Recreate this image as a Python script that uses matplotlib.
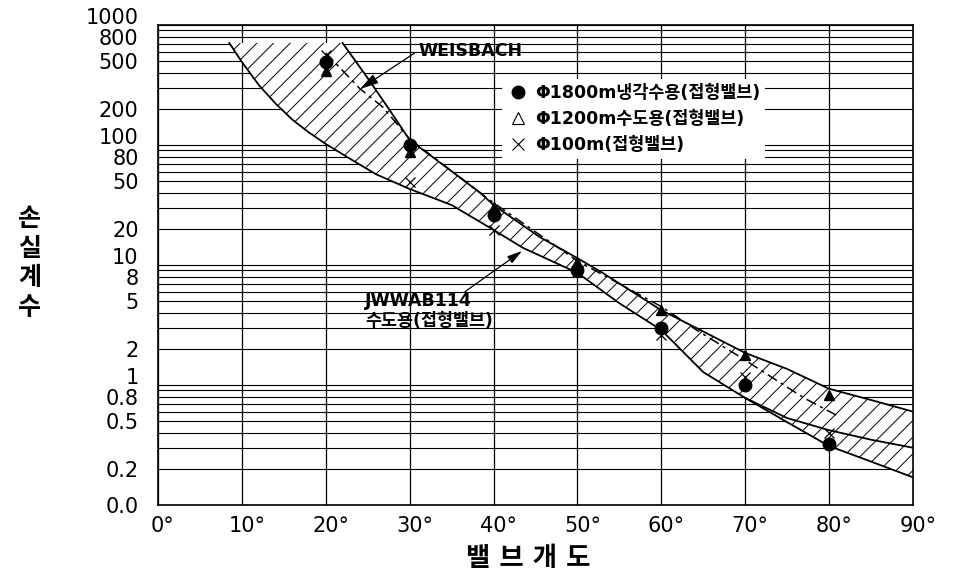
import numpy as np
import matplotlib
matplotlib.use('Agg')
import matplotlib.pyplot as plt
from matplotlib.lines import Line2D
from matplotlib.transforms import ScaledTranslation
from matplotlib.ticker import LogLocator, NullFormatter
from matplotlib.font_manager import FontProperties

plt.rcParams['font.family'] = ['DejaVu Sans', 'Noto Sans CJK KR']
plt.rcParams['hatch.linewidth'] = 0.7

# ---------------- data ----------------
angles = [20, 30, 40, 50, 60, 70, 80]
phi1800 = [492, 100, 26, 9.1, 3.0, 1.0, 0.32]
phi1200 = [414, 88, 30.4, 10.6, 4.2, 1.78, 0.83]
phi100 = [562, 49, 19.5, 8.7, 2.6, 1.16, 0.40]

upper_x = [22, 24.9, 27.6, 30, 34.4, 38.4, 40, 45.5, 50, 53, 60, 65, 70, 75, 80, 85, 90]
upper_y = [708, 369, 196, 110, 65, 40, 31.6, 17.1, 11.4, 8.6, 4.2, 2.79, 1.85, 1.36, 0.93, 0.75, 0.6]

lower_x = [8.5, 10, 12, 14, 16, 18, 20, 23, 26, 30, 35, 40, 43.5, 50, 55, 60, 65, 70, 75, 80, 85, 90]
lower_y = [708, 492, 317, 222, 163, 127, 102, 76, 57, 43, 31.6, 19.6, 13.9, 8.6, 4.8, 2.87, 1.28, 0.78, 0.53, 0.42, 0.35, 0.30]

branch_x = [70, 75, 80, 85, 90]
branch_y = [0.78, 0.49, 0.31, 0.23, 0.17]

weis_x = [20, 24.1, 26.8, 30, 38.4, 40, 50, 60, 64.2, 70, 77, 81.3]
weis_y = [585, 293, 207, 112, 40, 33, 10.8, 4.5, 2.87, 1.61, 0.78, 0.54]

xticks = [0, 10, 20, 30, 40, 50, 60, 70, 80, 90]
xtick_labels = ['0°', '10°', '20°', '30°', '40°', '50°', '60°', '70°', '80°', '90°']
yticks = [1000, 800, 500, 200, 100, 80, 50, 20, 10, 8, 5, 2, 1, 0.8, 0.5, 0.2, 0.1]
ytick_labels = ['1000', '800', '500', '200', '100', '80', '50', '20', '10', '8', '5',
                '2', '1', '0.8', '0.5', '0.2', '0.0']
decade_labels = ['1000', '100', '10', '1']

legend_labels = ['Φ1800m냉각수용(접형밸브)', 'Φ1200m수도용(접형밸브)', 'Φ100m(접형밸브)']

# ---------------- figure ----------------
fig = plt.figure(figsize=(9.56, 5.79), dpi=100)
ax = fig.add_axes([158 / 956, 1 - 505 / 579, (913 - 158) / 956, (505 - 25) / 579])
ax.set_yscale('log')
ax.set_xlim(0, 90)
ax.set_ylim(0.1, 1000)

# hatched band
idx = lower_x.index(branch_x[0])
band_x = lower_x[:idx] + branch_x + upper_x[::-1]
band_y = lower_y[:idx] + branch_y + upper_y[::-1]
ax.fill(band_x, band_y, facecolor='white', edgecolor='black', hatch='//', linewidth=0, zorder=2)

# boundary curves
ax.plot(upper_x, upper_y, color='black', lw=1.3, zorder=3)
ax.plot(lower_x, lower_y, color='black', lw=1.3, zorder=3)
ax.plot(branch_x, branch_y, color='black', lw=1.3, zorder=3)
ax.plot(weis_x, weis_y, color='black', lw=1.1, ls=(0, (7, 3, 2, 3)), zorder=3)

# data points
ax.plot(angles, phi100, ls='none', marker='x', color='black', ms=7, mew=0.9, zorder=4)
ax.plot(angles, phi1200, ls='none', marker='^', color='black', ms=7, zorder=5)
ax.plot(angles, phi1800, ls='none', marker='o', color='black', ms=9, zorder=6)

# annotations
ax.annotate('WEISBACH', xy=(24.1, 293), xytext=(31.0, 610), textcoords='data',
            ha='left', va='center', fontsize=12.5, weight='bold', zorder=7,
            arrowprops=dict(arrowstyle='-|>,head_length=0.9,head_width=0.25',
                            color='black', lw=0.9, shrinkA=0, shrinkB=0,
                            relpos=(0, 0.5)))
ax.text(24.7, 6.0, 'JWWAB114\n수도용(접형밸브)', ha='left', va='top', fontsize=12.5,
        weight='bold', linespacing=1.2, zorder=7)
ax.annotate('', xy=(43.4, 13.1), xytext=(36.6, 6.0), textcoords='data', zorder=7,
            arrowprops=dict(arrowstyle='-|>,head_length=0.9,head_width=0.25',
                            color='black', lw=0.9, shrinkA=0, shrinkB=0))

# ticks and grid
ax.set_xticks(xticks, xtick_labels)
ax.set_yticks(yticks, ytick_labels)
ax.yaxis.set_minor_locator(LogLocator(base=10, subs=np.arange(1, 10), numticks=30))
ax.yaxis.set_minor_formatter(NullFormatter())
ax.grid(True, which='both', axis='y', color='black', lw=0.8, zorder=0)
ax.grid(True, which='major', axis='x', color='black', lw=0.9, zorder=0)
ax.set_axisbelow(True)
ax.tick_params(axis='both', which='both', length=0)
ax.tick_params(axis='y', pad=14, labelsize=15)
ax.tick_params(axis='x', pad=8, labelsize=15)

for lab, txt in zip(ax.get_yticklabels(), ytick_labels):
    if txt in decade_labels:
        lab.set_transform(lab.get_transform() + ScaledTranslation(0, 0.09, fig.dpi_scale_trans))
for lab in ax.get_xticklabels():
    lab.set_transform(lab.get_transform() + ScaledTranslation(0.05, 0, fig.dpi_scale_trans))

for sp in ax.spines.values():
    sp.set_linewidth(1.2)
    sp.set_color('black')

# legend
handles = [
    Line2D([], [], ls='none', marker='o', color='black', ms=9),
    Line2D([], [], ls='none', marker='^', mfc='white', mec='black', mew=0.8, ms=9),
    Line2D([], [], ls='none', marker='x', color='black', mew=0.8, ms=9),
]
leg = ax.legend(handles, legend_labels, loc='upper left', bbox_to_anchor=(0.444, 0.906),
                frameon=True, fancybox=False, framealpha=1, facecolor='white',
                edgecolor='none', handletextpad=0.4, labelspacing=0.45,
                borderpad=0.3, handlelength=1.2,
                prop=FontProperties(family=['DejaVu Sans', 'Noto Sans CJK KR'],
                                    size=12.5, weight='bold'))
leg.set_zorder(8)

# axis titles
fig.text(0.031, 0.545, '손\n실\n계\n수', ha='center', va='center', fontsize=18,
         family='Noto Sans CJK KR', weight='bold', linespacing=1.3)
fig.text(0.553, 0.035, '밸 브 개 도', ha='center', va='center', fontsize=19,
         family=['DejaVu Sans', 'Noto Sans CJK KR'], weight='bold')

fig.savefig('out.png', dpi=100)
